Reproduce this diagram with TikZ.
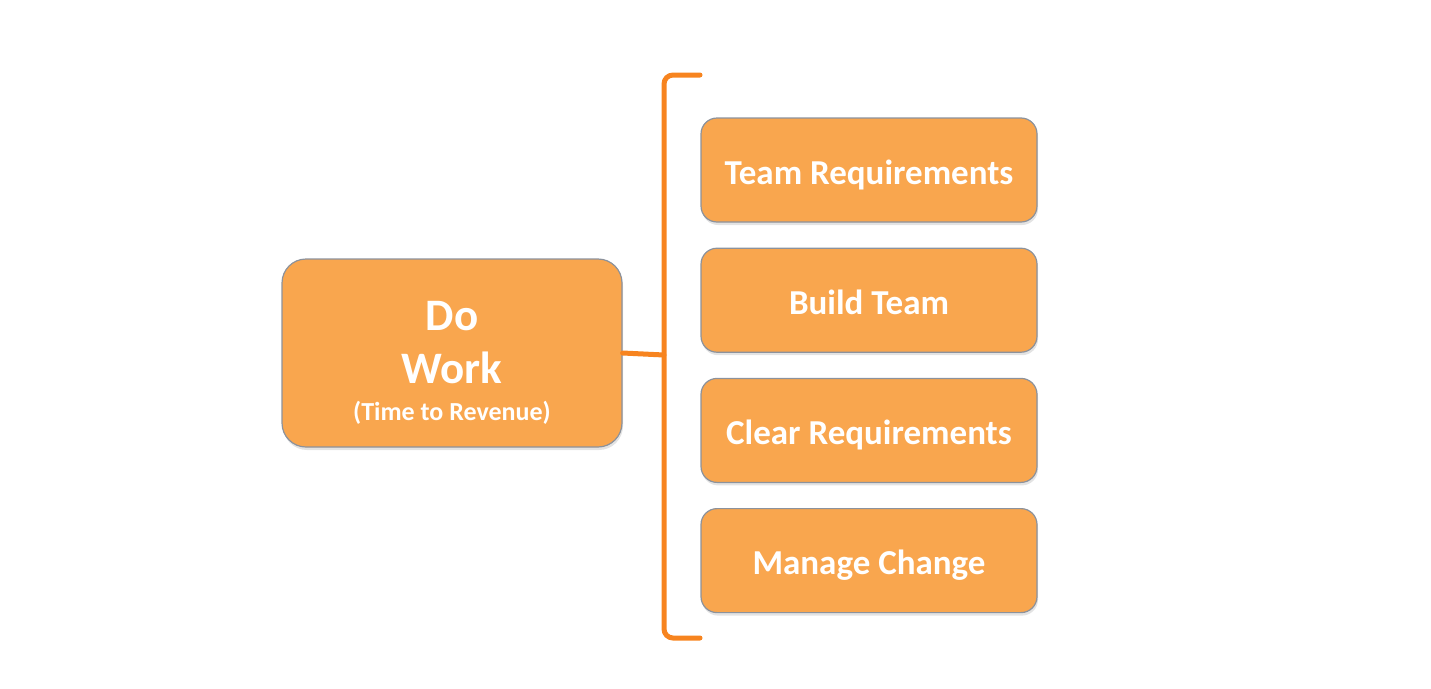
\documentclass[tikz,border=0pt]{standalone}
\usepackage{fontspec}
\setmainfont{Carlito}
\usetikzlibrary{positioning, shadows}
\definecolor{boxOrange}{HTML}{F9A64E}
\definecolor{braceOrange}{HTML}{F7841F}
\definecolor{edgeGrey}{HTML}{8C929C}

\begin{document}
\begin{tikzpicture}[x=1pt, y=-1pt,
  boxbase/.style={draw=edgeGrey, line width=1.2pt, fill=boxOrange, text=white,
                align=center, inner sep=0pt,
                drop shadow={shadow xshift=1pt, shadow yshift=-3pt, opacity=0.22}},
  mainbox/.style={boxbase, rounded corners=24pt, minimum width=340pt, minimum height=188pt,
                font=\fontsize{45}{53}\selectfont\bfseries},
  stepbox/.style={boxbase, rounded corners=16pt, minimum width=336pt, minimum height=104pt,
                text height=34pt, text depth=6pt,
                font=\fontsize{35}{42}\selectfont\bfseries},
  brace/.style={braceOrange, line width=5pt, rounded corners=9pt, line cap=round},
]
  \useasboundingbox (0,0) rectangle (1431,688);
  % Main box
  \node[mainbox] (work) at (452,353) {%
    \rule{0pt}{48pt}Do\\Work\\[-16pt]
    {\fontsize{26}{30}\selectfont (Time to Revenue)}};
  % Steps
  \node[stepbox] (s1) at (869,170) {Team Requirements};
  \node[stepbox, below=25pt of s1] (s2) {Build Team};
  \node[stepbox, below=25pt of s2] (s3) {Clear Requirements};
  \node[stepbox, below=25pt of s3] (s4) {Manage Change};
  % Bracket
  \coordinate (brTop) at (700,75);
  \coordinate (brBot) at (700,638);
  \coordinate (tip) at (664,355);
  \draw[brace] (brTop) -- (664,75) -- (664,638) -- (brBot);
  \draw[brace] (work.east) -- (tip);
\end{tikzpicture}
\end{document}
